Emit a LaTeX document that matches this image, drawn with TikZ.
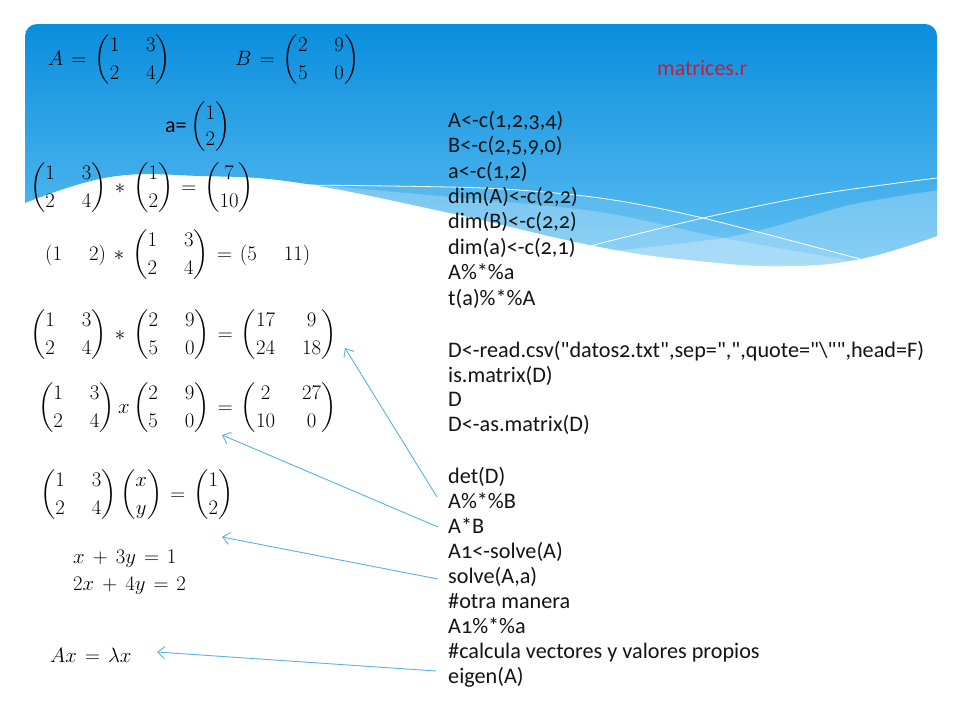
\documentclass[tikz,border=0pt]{standalone}
\usepackage{amsmath}
\usepackage{fontspec}
\newfontfamily\carlito{Carlito}[Numbers=OldStyle]
\usetikzlibrary{arrows.meta}
\definecolor{bannertop}{RGB}{10,142,221}
\definecolor{bannerbot}{RGB}{96,192,243}
\definecolor{arrowblue}{RGB}{90,178,230}
\definecolor{codegray}{RGB}{20,20,20}
\definecolor{titlered}{RGB}{196,30,58}
\setlength{\arraycolsep}{13.5pt}
\delimiterfactor=700
\delimitershortfall=14pt
\medmuskip=7mu
\thickmuskip=7mu
\begin{document}
\begin{tikzpicture}[x=1pt,y=-1pt,
  mathn/.style={font=\fontsize{22.5}{28}\selectfont, inner sep=0pt, anchor=west},
  codeln/.style={font=\carlito\fontsize{22.2}{26}\selectfont, text=codegray, inner sep=0pt, anchor=base west},
  link/.style={draw=arrowblue, line width=0.9pt, -{Straight Barb[length=7pt,width=12pt]}},
  waveline/.style={draw=white, line width=0.8pt}]
\useasboundingbox (0,0) rectangle (960,720);
\fill[white] (0,0) rectangle (960,720);
% banner
\shade[top color=bannertop, bottom color=bannerbot]
  (25,203) [rounded corners=12pt] -- (25,24) -- (937,24) -- (937,120) [sharp corners] -- (937,236)
  -- plot[smooth,tension=0.7] coordinates {(937,236) (860,259) (783,266) (700,261) (600,247) (450,213) (300,183) (200,176) (110,177) (25,203)} -- cycle;
\begin{scope}
  \clip (25,203) -- (25,24) -- (937,24) -- (937,236)
  -- plot[smooth,tension=0.7] coordinates {(937,236) (860,259) (783,266) (700,261) (600,247) (450,213) (300,183) (200,176) (110,177) (25,203)} -- cycle;
  \fill[white, opacity=0.10] plot[smooth] coordinates {(300,185) (483,188) (600,198) (703,218) (860,259)} -- (860,300) -- (300,300) -- cycle;
  \fill[white, opacity=0.22] plot[smooth] coordinates {(240,178) (450,197) (600,212) (723,238) (870,264)} -- (870,300) -- (240,300) -- cycle;
  \fill[white, opacity=0.25] plot[smooth] coordinates {(500,262) (723,238) (850,205) (940,190)} -- (940,300) -- (500,300) -- cycle;
\end{scope}
\draw[waveline] plot[smooth] coordinates {(300,185) (483,188) (600,198) (703,218) (860,259)};
\draw[waveline] plot[smooth] coordinates {(590,246) (703,218) (820,194) (937,178)};
% title
\node[font=\carlito\fontsize{22}{26}\selectfont, text=titlered, inner sep=0pt, anchor=base west] (title) at (657,75) {matrices.r};
% math
\node[mathn] (eqA) at (48,60) {$A=\begin{pmatrix}1&3\\2&4\end{pmatrix}$};
\node[mathn] (eqB) at (235,60) {$B=\begin{pmatrix}2&9\\5&0\end{pmatrix}$};
\node[mathn] (eqa) at (165,127) {\carlito\fontsize{22}{26}\selectfont a=\,$\begin{pmatrix}1\\2\end{pmatrix}$};
\node[mathn] (eq3) at (30,188) {$\begin{pmatrix}1&3\\2&4\end{pmatrix}\ast\begin{pmatrix}1\\2\end{pmatrix}=\begin{pmatrix}7\\10\end{pmatrix}$};
\node[mathn] (eq4) at (45,255) {$\begin{pmatrix}1&2\end{pmatrix}\ast\begin{pmatrix}1&3\\2&4\end{pmatrix}=\begin{pmatrix}5&11\end{pmatrix}$};
\node[mathn] (eq5) at (30,335) {$\begin{pmatrix}1&3\\2&4\end{pmatrix}\ast\begin{pmatrix}2&9\\5&0\end{pmatrix}=\begin{pmatrix}17&9\\24&18\end{pmatrix}$};
\node[mathn] (eq6) at (38,408) {$\begin{pmatrix}1&3\\2&4\end{pmatrix}x\begin{pmatrix}2&9\\5&0\end{pmatrix}=\begin{pmatrix}2&27\\10&0\end{pmatrix}$};
\node[mathn] (eq7) at (40,495) {$\begin{pmatrix}1&3\\2&4\end{pmatrix}\begin{pmatrix}x\\y\end{pmatrix}=\begin{pmatrix}1\\2\end{pmatrix}$};
\node[mathn, anchor=base west] (eq8a) at (73,563) {$x+3y=1$};
\node[mathn, anchor=base west] (eq8b) at (73,590) {$2x+4y=2$};
\node[mathn, anchor=base west] (eq9) at (50,662) {$Ax=\lambda x$};
% code
\node[codeln] (c1) at (448,127) {A<-c(1,2,3,4)};
\node[codeln] (c2) at (448,152) {B<-c(2,5,9,0)};
\node[codeln] (c3) at (448,178) {a<-c(1,2)};
\node[codeln] (c4) at (448,203) {dim(A)<-c(2,2)};
\node[codeln] (c5) at (448,228) {dim(B)<-c(2,2)};
\node[codeln] (c6) at (448,254) {dim(a)<-c(2,1)};
\node[codeln] (c7) at (448,279) {A\%*\%a};
\node[codeln] (c8) at (448,305) {t(a)\%*\%A};
\node[codeln] (c9) at (448,357) {D<-read.csv("datos2.txt",sep=",",quote="\textbackslash"",head=F)};
\node[codeln] (c10) at (448,382) {is.matrix(D)};
\node[codeln] (c11) at (448,406) {D};
\node[codeln] (c12) at (448,431) {D<-as.matrix(D)};
\node[codeln] (c13) at (448,483) {det(D)};
\node[codeln] (c14) at (448,508) {A\%*\%B};
\node[codeln] (c15) at (448,533) {A*B};
\node[codeln] (c16) at (448,558) {A1<-solve(A)};
\node[codeln] (c17) at (448,583) {solve(A,a)};
\node[codeln] (c18) at (448,608) {\#otra manera};
\node[codeln] (c19) at (448,633) {A1\%*\%a};
\node[codeln] (c20) at (448,658) {\#calcula vectores y valores propios};
\node[codeln] (c21) at (448,683) {eigen(A)};
% arrows
\coordinate (t1) at (437,497); \coordinate (h1) at (345,348);
\coordinate (t2) at (438,527); \coordinate (h2) at (222,435);
\coordinate (t3) at (438,579); \coordinate (h3) at (222,537);
\coordinate (t4) at (436,671); \coordinate (h4) at (157,652);
\draw[link] (t1) -- (h1);
\draw[link] (t2) -- (h2);
\draw[link] (t3) -- (h3);
\draw[link] (t4) -- (h4);
\end{tikzpicture}
\end{document}
